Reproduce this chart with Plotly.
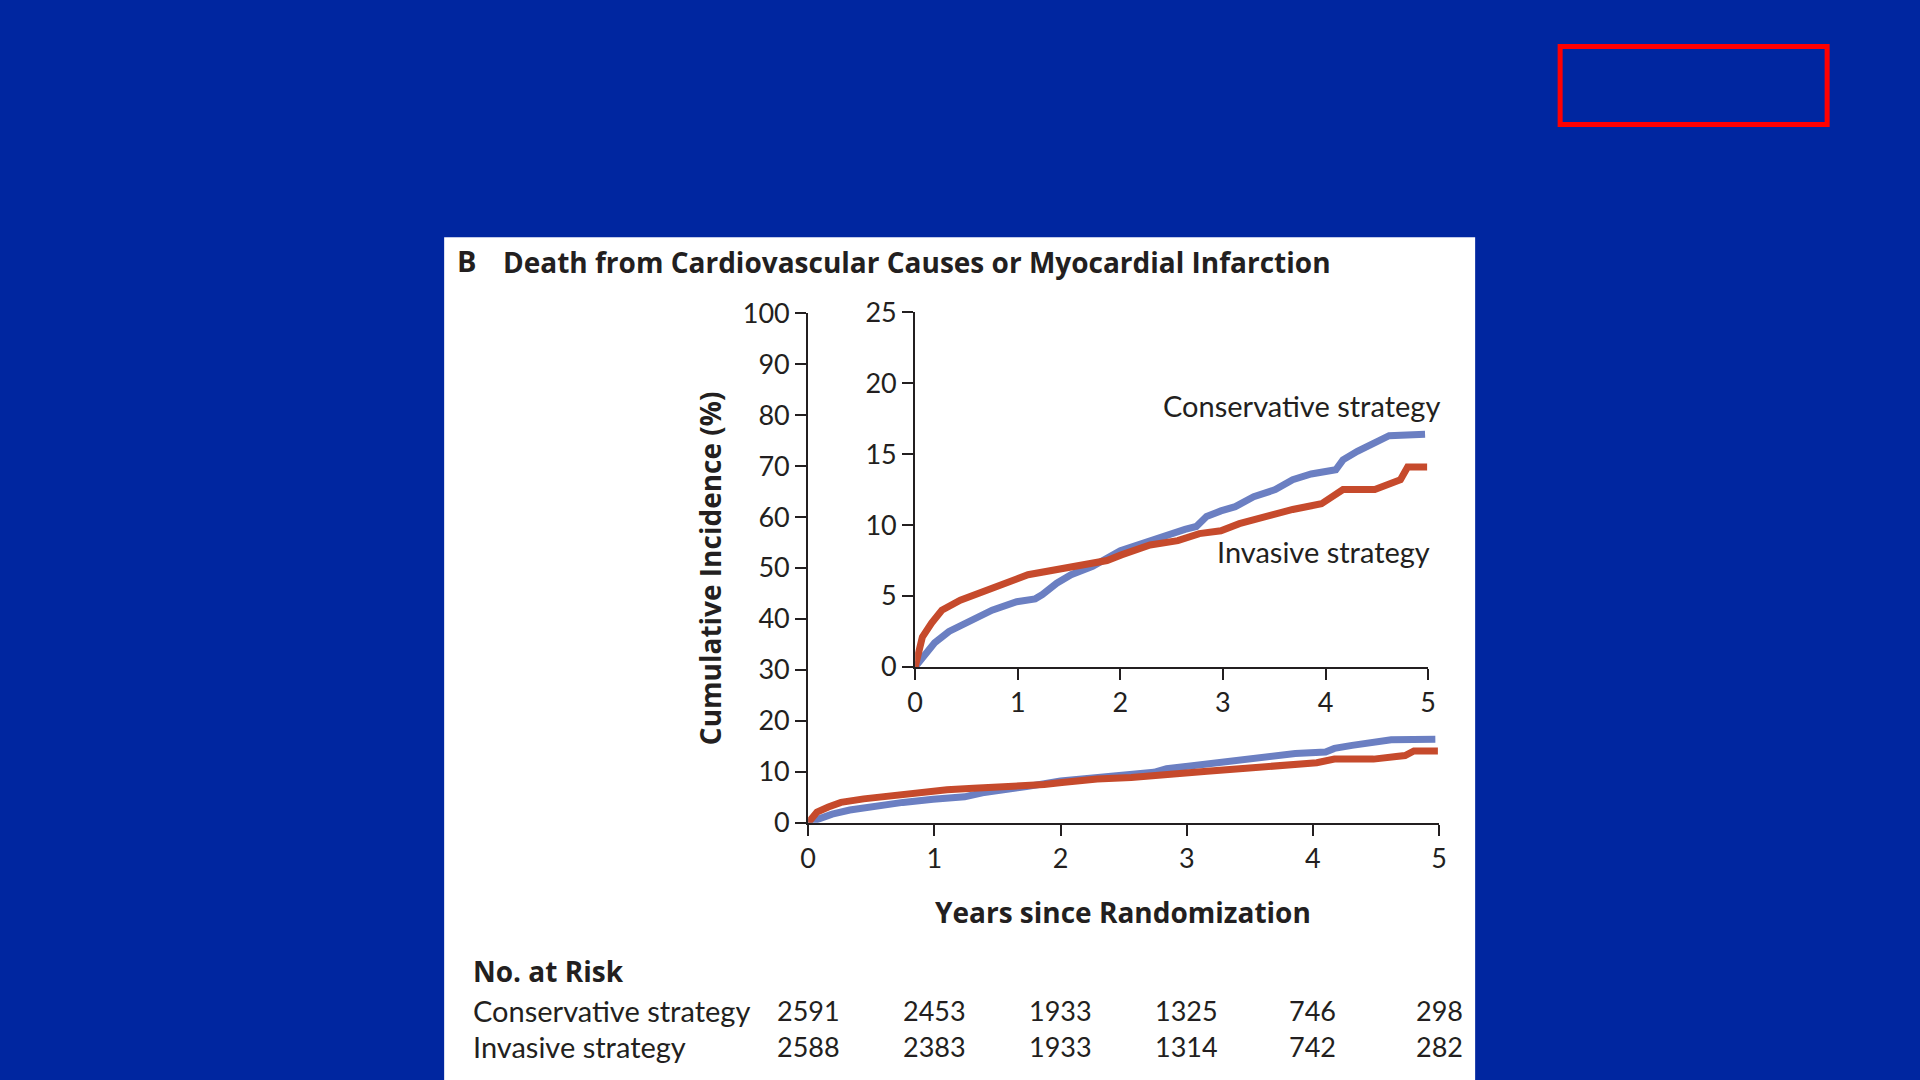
import plotly.graph_objects as go

# Kaplan-Meier style cumulative incidence (%)
cons_years = [0, 0.09, 0.19, 0.33, 0.54, 0.75, 0.99, 1.17, 1.24, 1.38, 1.52, 1.73,
              2.0, 2.29, 2.46, 2.63, 2.74, 2.84, 2.98, 3.12, 3.30, 3.51, 3.68,
              3.86, 4.10, 4.17, 4.31, 4.45, 4.62, 4.97]
cons_inc = [0, 0.75, 1.7, 2.5, 3.3, 4.0, 4.6, 4.8, 5.1, 5.9, 6.5, 7.1,
            8.2, 8.9, 9.4, 9.7, 9.9, 10.6, 11.0, 11.3, 12.0, 12.5, 13.2,
            13.6, 13.9, 14.6, 15.2, 15.7, 16.3, 16.4]

inv_years = [0, 0.07, 0.16, 0.26, 0.44, 0.61, 0.79, 0.99, 1.10, 1.31, 1.59, 1.87,
             2.01, 2.29, 2.56, 2.77, 2.98, 3.16, 3.47, 3.68, 3.96, 4.03, 4.17,
             4.48, 4.66, 4.73, 4.80, 4.99]
inv_inc = [0, 2.1, 3.1, 4.0, 4.7, 5.2, 5.7, 6.2, 6.5, 6.8, 7.1, 7.5,
           7.9, 8.6, 8.9, 9.4, 9.6, 10.1, 10.7, 11.1, 11.5, 11.8, 12.5,
           12.5, 13.0, 13.2, 14.1, 14.1]

risk_years = [0, 1, 2, 3, 4, 5]
risk_cons = [2591, 2453, 1933, 1325, 746, 298]
risk_inv = [2588, 2383, 1933, 1314, 742, 282]

# figure is a bit larger than the window so the page is fully covered
W, H = 1940, 1100
BG = "#0026a0"
INK = "#231f20"
BLUE = "#6b7fc2"
RED = "#c64a2c"
FONT = "Lato"
BOLD = "Open Sans"


# positions below are given in slide pixels (1920x1080); these map them to
# paper fractions, correcting for how the page ends up framed in the photo
def px(x):
    return (1.0083 * x - 7.9) / W


def py(y):
    return 1 - (1.0299 * y - 16.9) / H


fig = go.Figure()

# main panel
fig.add_trace(go.Scatter(x=cons_years, y=cons_inc, mode="lines",
                         line=dict(color=BLUE, width=7), xaxis="x", yaxis="y"))
fig.add_trace(go.Scatter(x=inv_years, y=inv_inc, mode="lines",
                         line=dict(color=RED, width=7), xaxis="x", yaxis="y"))
# inset
fig.add_trace(go.Scatter(x=cons_years, y=cons_inc, mode="lines",
                         line=dict(color=BLUE, width=7), xaxis="x2", yaxis="y2"))
fig.add_trace(go.Scatter(x=inv_years, y=inv_inc, mode="lines",
                         line=dict(color=RED, width=7), xaxis="x2", yaxis="y2"))

axis_style = dict(showline=True, linecolor=INK, linewidth=2, ticks="outside",
                  ticklen=11, tickwidth=2, tickcolor=INK, showgrid=False,
                  zeroline=False, tickfont=dict(family=FONT, size=27, color=INK))

fig.update_layout(
    width=W, height=H, margin=dict(l=0, r=0, t=0, b=0),
    paper_bgcolor=BG, plot_bgcolor="rgba(0,0,0,0)", showlegend=False,
    xaxis=dict(domain=[px(808), px(1439)], range=[0, 5], dtick=1,
               anchor="y", **axis_style),
    yaxis=dict(domain=[py(822), py(312)], range=[0, 100], dtick=10,
               anchor="x", **axis_style),
    xaxis2=dict(domain=[px(915), px(1428)], range=[0, 5], dtick=1,
                anchor="y2", **axis_style),
    yaxis2=dict(domain=[py(666), py(311)], range=[0, 25], dtick=5,
                anchor="x2", **axis_style),
)

# white figure panel and red frame
fig.add_shape(type="rect", xref="paper", yref="paper",
              x0=px(444), x1=px(1475), y0=-0.05, y1=py(236),
              fillcolor="white", line=dict(width=0), layer="below")
fig.add_shape(type="rect", xref="paper", yref="paper",
              x0=px(1560), x1=px(1827), y0=py(123), y1=py(45),
              line=dict(color="#ff0000", width=5))

ann = []
ann.append(dict(text="<b>B</b>", x=px(456), y=py(259), xanchor="left",
                font=dict(size=29, color=INK, family=BOLD)))
ann.append(dict(text="<b>Death from Cardiovascular Causes or Myocardial Infarction</b>",
                x=px(502), y=py(261), xanchor="left", font=dict(size=28, color=INK, family=BOLD)))
ann.append(dict(text="<b>Cumulative Incidence (%)</b>", x=px(710), y=py(567),
                textangle=-90, font=dict(size=28, color=INK, family=BOLD)))
ann.append(dict(text="<b>Years since Randomization</b>", x=px(1123), y=py(911),
                font=dict(size=28, color=INK, family=BOLD)))
ann.append(dict(text="Conservative strategy", x=px(1441), y=py(404), xanchor="right",
                font=dict(size=29, color=INK)))
ann.append(dict(text="Invasive strategy", x=px(1431), y=py(550), xanchor="right",
                font=dict(size=29, color=INK)))
ann.append(dict(text="<b>No. at Risk</b>", x=px(472), y=py(970), xanchor="left",
                font=dict(size=28, color=INK, family=BOLD)))
ann.append(dict(text="Conservative strategy", x=px(472), y=py(1010), xanchor="left",
                font=dict(size=29, color=INK)))
ann.append(dict(text="Invasive strategy", x=px(472), y=py(1046), xanchor="left",
                font=dict(size=29, color=INK)))
for yr, c, i in zip(risk_years, risk_cons, risk_inv):
    ann.append(dict(text=str(c), x=yr, xref="x", y=py(1010), font=dict(size=27, color=INK)))
    ann.append(dict(text=str(i), x=yr, xref="x", y=py(1046), font=dict(size=27, color=INK)))

for a in ann:
    a.setdefault("xref", "paper")
    a.setdefault("yref", "paper")
    a.setdefault("xanchor", "center")
    a["yanchor"] = "middle"
    a["showarrow"] = False
    a["borderpad"] = 0
    a["font"].setdefault("family", FONT)
    fig.add_annotation(**a)

# pin the figure to the top-left corner of the window
fig.write_html("out.html", config={"displayModeBar": False}, post_script=(
    "document.documentElement.style.overflow='hidden';"
    "document.body.style.margin='0';"
    "document.body.style.overflow='hidden';"
    "document.body.style.background='" + BG + "';"
    "var d=document.getElementById('{plot_id}');"
    "d.style.position='fixed';d.style.left='0px';d.style.top='0px';"))
